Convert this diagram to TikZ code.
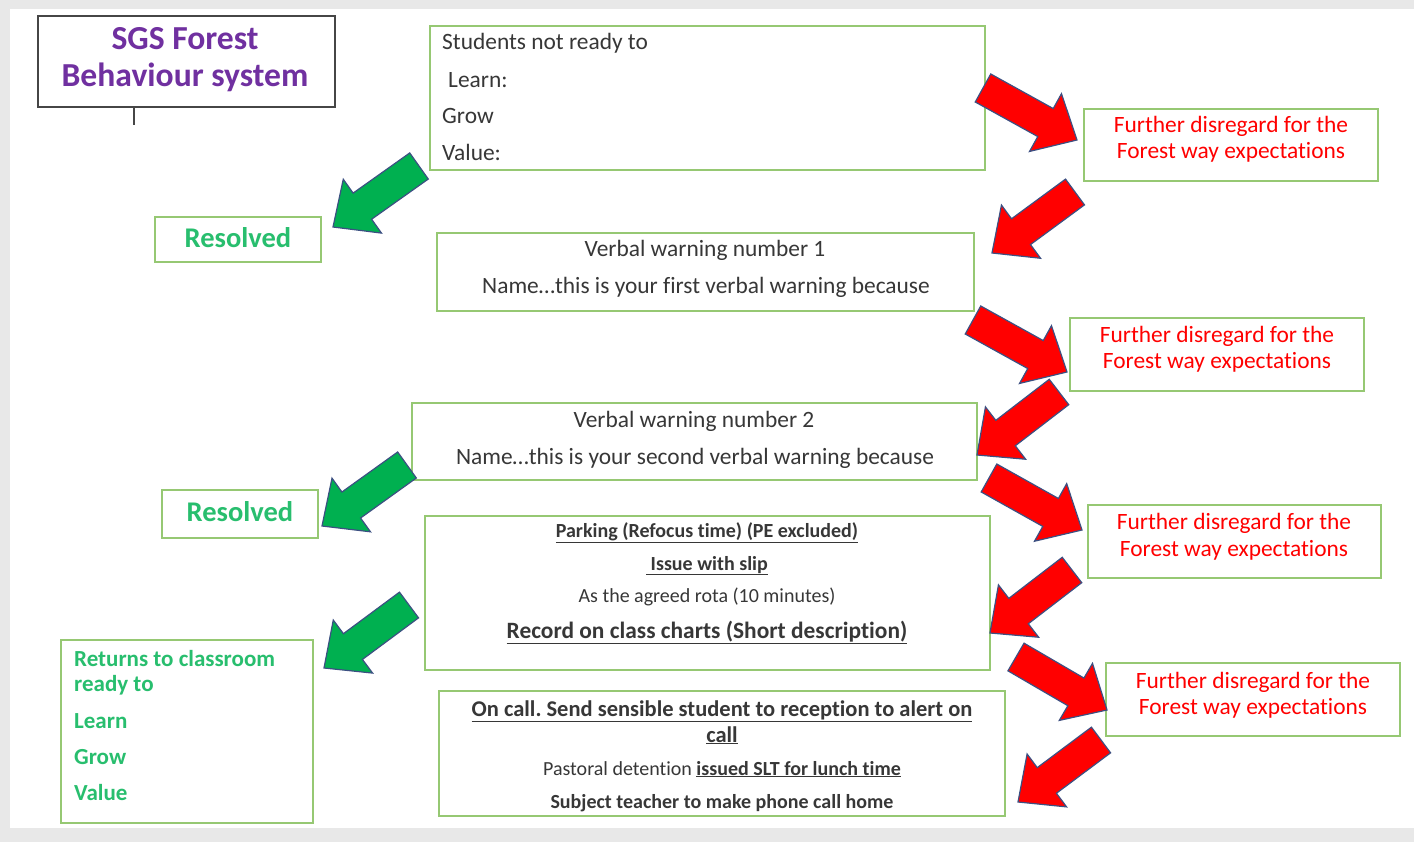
\documentclass[tikz,border=0pt]{standalone}
\usepackage{fontspec}
\setmainfont{Carlito}[Ligatures={NoCommon,NoRare}, Contextuals=NoAlternate]
\usetikzlibrary{calc,fit}
\frenchspacing
\definecolor{boxgreen}{RGB}{150,200,115}
\definecolor{txtgray}{RGB}{55,55,55}
\definecolor{fred}{RGB}{255,0,0}
\definecolor{fgreen}{RGB}{0,176,80}
\definecolor{lgreen}{RGB}{40,190,110}
\definecolor{titlepurple}{RGB}{112,48,160}
\definecolor{outlineblue}{RGB}{60,80,130}
\definecolor{pagegray}{RGB}{232,232,232}
\definecolor{titleframe}{RGB}{70,70,70}
\newcommand\fsz[1]{\fontsize{#1}{#1}\selectfont}
\newcommand\blockarrow[3]{%
  \coordinate (ban) at ($(#3)!36pt!(#2)$);
  \draw[#1] ($(#2)!16pt!90:(#3)$) -- ($(ban)!16pt!-90:(#2)$) -- ($(ban)!33pt!-90:(#2)$) -- (#3)
    -- ($(ban)!33pt!90:(#2)$) -- ($(ban)!16pt!90:(#2)$) -- ($(#2)!16pt!-90:(#3)$) -- cycle;}
\tikzset{
  gbox/.style={draw=boxgreen, line width=2pt, inner sep=0pt},
  tbox/.style={draw=titleframe, line width=2pt, inner sep=0pt},
  body/.style={inner sep=0pt, text=txtgray, font=\fsz{23.4}},
  smallt/.style={inner sep=0pt, text=txtgray, font=\fsz{20}},
  redt/.style={inner sep=0pt, text=fred, font=\fsz{23.4}},
  greent/.style={inner sep=0pt, text=lgreen, font=\fsz{23}\bfseries},
  rest/.style={inner sep=0pt, text=lgreen, font=\fsz{28.5}\bfseries},
  titlet/.style={inner sep=0pt, text=titlepurple, font=\fsz{33.6}\bfseries},
  redarrow/.style={fill=fred, draw=outlineblue, line width=1.2pt, line join=miter},
  greenarrow/.style={fill=fgreen, draw=outlineblue, line width=1.2pt, line join=miter}
}
\begin{document}
\begin{tikzpicture}[x=1pt,y=-1pt]
\useasboundingbox (0,0) rectangle (1414,842);
\fill[pagegray] (0,0) rectangle (1414,842);
\fill[white] (10,9) rectangle (1414,828);

% title
\node[tbox, fit={(38,16) (335,107)}] (title) {};
\node[titlet, anchor=base] (title1) at (185,50) {SGS Forest};
\node[titlet, anchor=base] (title2) at (185,87) {Behaviour system};
\coordinate (tick) at (134,125);
\draw[titleframe, line width=2pt] (title.south -| tick) -- (tick);

% box 1
\node[gbox, fit={(430,26) (985,170)}] (b1) {};
\node[body, anchor=base west] (b1a) at (442,50) {Students not ready to};
\node[body, anchor=base west] (b1b) at (448,88) {Learn:};
\node[body, anchor=base west] (b1c) at (442,124) {Grow};
\node[body, anchor=base west] (b1d) at (442,161) {Value:};

% red boxes
\node[gbox, fit={(1084,109) (1378,181)}] (rb1) {};
\node[redt, anchor=base] (rb1a) at (1231,133) {Further disregard for the};
\node[redt, anchor=base] (rb1b) at (1231,159) {Forest way expectations};
\node[gbox, fit={(1070,318) (1364,391)}] (rb2) {};
\node[redt, anchor=base] (rb2a) at (1217,342) {Further disregard for the};
\node[redt, anchor=base] (rb2b) at (1217,369) {Forest way expectations};
\node[gbox, fit={(1088,505) (1381,578)}] (rb3) {};
\node[redt, anchor=base] (rb3a) at (1234,529) {Further disregard for the};
\node[redt, anchor=base] (rb3b) at (1234,556) {Forest way expectations};
\node[gbox, fit={(1106,663) (1400,736)}] (rb4) {};
\node[redt, anchor=base] (rb4a) at (1253,688) {Further disregard for the};
\node[redt, anchor=base] (rb4b) at (1253,714) {Forest way expectations};

% resolved
\node[gbox, fit={(155,217) (321,262)}] (res1) {};
\node[rest, anchor=base] (res1t) at (238,248) {Resolved};
\node[gbox, fit={(162,490) (318,538)}] (res2) {};
\node[rest, anchor=base] (res2t) at (240,521) {Resolved};

% verbal warnings
\node[gbox, fit={(437,233) (974,311)}] (vw1) {};
\node[body, anchor=base] (vw1a) at (705,257) {Verbal warning number 1};
\node[body, anchor=base] (vw1b) at (706,294) {Name…this is your first verbal warning because};
\node[gbox, fit={(412,403) (977,480)}] (vw2) {};
\node[body, anchor=base] (vw2a) at (694,427) {Verbal warning number 2};
\node[body, anchor=base] (vw2b) at (695,464) {Name…this is your second verbal warning because};

% parking
\node[gbox, fit={(425,516) (990,670)}] (park) {};
\node[smallt, anchor=base, font=\fsz{20}\bfseries] (parka) at (707,537) {\underline{Parking (Refocus time) (PE excluded)}};
\node[smallt, anchor=base, font=\fsz{20}\bfseries] (parkb) at (707,570) {\underline{ Issue with slip}};
\node[smallt, anchor=base] (parkc) at (707,602) {As the agreed rota (10 minutes)};
\node[body, anchor=base, font=\fsz{23.4}\bfseries] (parkd) at (707,638) {\underline{Record on class charts (Short description)}};

% returns
\node[gbox, fit={(61,640) (313,823)}] (ret) {};
\node[greent, anchor=base west] (reta) at (74,666) {Returns to classroom};
\node[greent, anchor=base west] (retb) at (74,691) {ready to};
\node[greent, anchor=base west] (retc) at (74,728) {Learn};
\node[greent, anchor=base west] (retd) at (74,764) {Grow};
\node[greent, anchor=base west] (rete) at (74,800) {Value};

% on call
\node[gbox, fit={(439,691) (1005,816)}] (oncall) {};
\node[body, anchor=base, font=\fsz{22.5}\bfseries] (oca) at (722,716) {\underline{On call. Send sensible student to reception to alert on}};
\node[body, anchor=base, font=\fsz{22.5}\bfseries] (ocb) at (722,742) {\underline{call}};
\node[smallt, anchor=base] (occ) at (722,775) {Pastoral detent\kern0pt ion \textbf{\underline{issued SLT for lunch time}}};
\node[smallt, anchor=base, font=\fsz{20}\bfseries] (ocd) at (722,808) {Subject teacher to make phone call home};

% arrows
\coordinate (r1t) at (983,88);  \coordinate (r1h) at (1077,140);
\coordinate (r2t) at (1075,192); \coordinate (r2h) at (992,253);
\coordinate (r3t) at (973,320); \coordinate (r3h) at (1067,372);
\coordinate (r4t) at (1059,392); \coordinate (r4h) at (977,455);
\coordinate (r5t) at (989,478); \coordinate (r5h) at (1082,530);
\coordinate (r6t) at (1072,570); \coordinate (r6h) at (990,633);
\coordinate (r7t) at (1016,657); \coordinate (r7h) at (1107,710);
\coordinate (r8t) at (1101,740); \coordinate (r8h) at (1018,802);
\coordinate (g1t) at (419,166); \coordinate (g1h) at (333,227);
\coordinate (g2t) at (407,465); \coordinate (g2h) at (322,526);
\coordinate (g3t) at (409,605); \coordinate (g3h) at (324,668);
\blockarrow{redarrow}{r1t}{r1h}
\blockarrow{redarrow}{r2t}{r2h}
\blockarrow{redarrow}{r3t}{r3h}
\blockarrow{redarrow}{r4t}{r4h}
\blockarrow{redarrow}{r5t}{r5h}
\blockarrow{redarrow}{r6t}{r6h}
\blockarrow{redarrow}{r7t}{r7h}
\blockarrow{redarrow}{r8t}{r8h}
\blockarrow{greenarrow}{g1t}{g1h}
\blockarrow{greenarrow}{g2t}{g2h}
\blockarrow{greenarrow}{g3t}{g3h}
\end{tikzpicture}
\end{document}
